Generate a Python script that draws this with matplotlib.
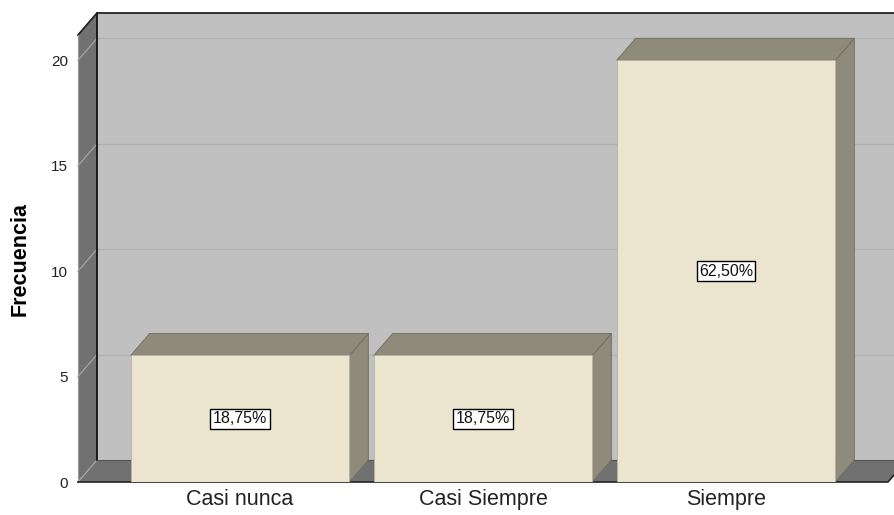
import matplotlib
matplotlib.use("Agg")
import matplotlib.pyplot as plt
from matplotlib.patches import Polygon, Rectangle
import numpy as np

plt.rcParams['font.family'] = ['Liberation Sans', 'DejaVu Sans']

categories = ["Casi nunca", "Casi Siempre", "Siempre"]
counts = [6, 6, 20]
pct_labels = ["18,75%", "18,75%", "62,50%"]
yticks = [0, 5, 10, 15, 20]
ylabel = "Frecuencia"

W, H, DPI = 895, 515, 100
fig = plt.figure(figsize=(W / DPI, H / DPI), dpi=DPI)
# front plane of the 3D box (in pixels): x 78..888, y (from top) 35..482
ax = fig.add_axes([78 / W, (H - 482) / H, 810 / W, 447 / H])
ax.set_xlim(-2 / 3, 2 + 2 / 3)
ax.set_ylim(0, 21.2)
ax.set_facecolor("none")
for s in ax.spines.values():
    s.set_visible(False)

# depth offset in pixels -> data units
DX_PX, DY_PX = 19, 22
x0d, y0d = ax.transData.inverted().transform(ax.transData.transform((0, 0)))
p = ax.transData.inverted().transform(ax.transData.transform((0, 0)) + np.array([DX_PX, DY_PX]))
ddx, ddy = p[0] - x0d, p[1] - y0d

xmin, xmax = ax.get_xlim()
ymax = ax.get_ylim()[1]

wall_dark = "#717171"
back_col = "#c0c0c0"
grid_back = "#b0b0b0"
grid_side = "#a4a4a4"

# back wall
ax.add_patch(Polygon([(xmin + ddx, ddy), (xmax + ddx, ddy), (xmax + ddx, ymax + ddy), (xmin + ddx, ymax + ddy)],
                     closed=True, facecolor=back_col, edgecolor="none", zorder=1, clip_on=False))
# left wall
ax.add_patch(Polygon([(xmin, 0), (xmin, ymax), (xmin + ddx, ymax + ddy), (xmin + ddx, ddy)],
                     closed=True, facecolor=wall_dark, edgecolor="none", zorder=1, clip_on=False))
# floor
ax.add_patch(Polygon([(xmin, 0), (xmax, 0), (xmax + ddx, ddy), (xmin + ddx, ddy)],
                     closed=True, facecolor=wall_dark, edgecolor="none", zorder=1, clip_on=False))

# grid lines
for t in yticks:
    ax.plot([xmin, xmin + ddx], [t, t + ddy], color=grid_side, lw=0.9, zorder=2, clip_on=False)
    if t > 0:
        ax.plot([xmin + ddx, xmax + ddx], [t + ddy, t + ddy], color=grid_back, lw=0.9, zorder=2, clip_on=False)

# wall outlines
ax.plot([xmin + ddx, xmin + ddx], [ddy, ymax + ddy], color="#111111", lw=1.3, zorder=3, clip_on=False)
ax.plot([xmin, xmin + ddx, xmax + ddx], [ymax, ymax + ddy, ymax + ddy], color="#222222", lw=1.3, zorder=3, clip_on=False)
ax.plot([xmin + ddx, xmax + ddx], [ddy, ddy], color="#555555", lw=0.8, zorder=3, clip_on=False)
ax.plot([xmin, xmin], [0, ymax], color="#9a9a9a", lw=0.8, zorder=3, clip_on=False)
ax.plot([xmin, xmax, xmax + ddx], [0, 0, ddy], color="#222222", lw=1.2, zorder=3, clip_on=False)

# bars
bw = 0.9
front_col = "#ebe5d0"
side_col = "#8f8b7b"
edge_col = "#6f6c60"
xs = np.arange(len(categories))
for x, v, lab in zip(xs, counts, pct_labels):
    l, r = x - bw / 2, x + bw / 2
    ax.add_patch(Polygon([(r, 0), (r + ddx, ddy), (r + ddx, v + ddy), (r, v)], closed=True,
                         facecolor=side_col, edgecolor=edge_col, lw=0.6, zorder=4))
    ax.add_patch(Polygon([(l, v), (r, v), (r + ddx, v + ddy), (l + ddx, v + ddy)], closed=True,
                         facecolor=side_col, edgecolor=edge_col, lw=0.6, zorder=4))
    ax.add_patch(Rectangle((l, 0), bw, v, facecolor=front_col, edgecolor="#b8b4a4", lw=0.6, zorder=5))
    ax.text(x, v / 2, lab, ha="center", va="center", fontsize=11.5, zorder=6, color="#111111",
            bbox=dict(boxstyle="square,pad=0.15", facecolor="white", edgecolor="black", lw=1.0))

ax.set_xticks(xs)
ax.set_xticklabels(categories, fontsize=15.5, color="#222222")
ax.set_yticks(yticks)
ax.set_yticklabels([str(t) for t in yticks], fontsize=11, color="#222222")
ax.tick_params(axis="both", length=0)
ax.tick_params(axis="x", pad=5)
ax.tick_params(axis="y", pad=7)
ax.set_ylabel(ylabel, fontsize=15.5, fontweight="bold")
ax.yaxis.set_label_coords(-0.059, 0.5)

fig.savefig("out.png", dpi=DPI)
